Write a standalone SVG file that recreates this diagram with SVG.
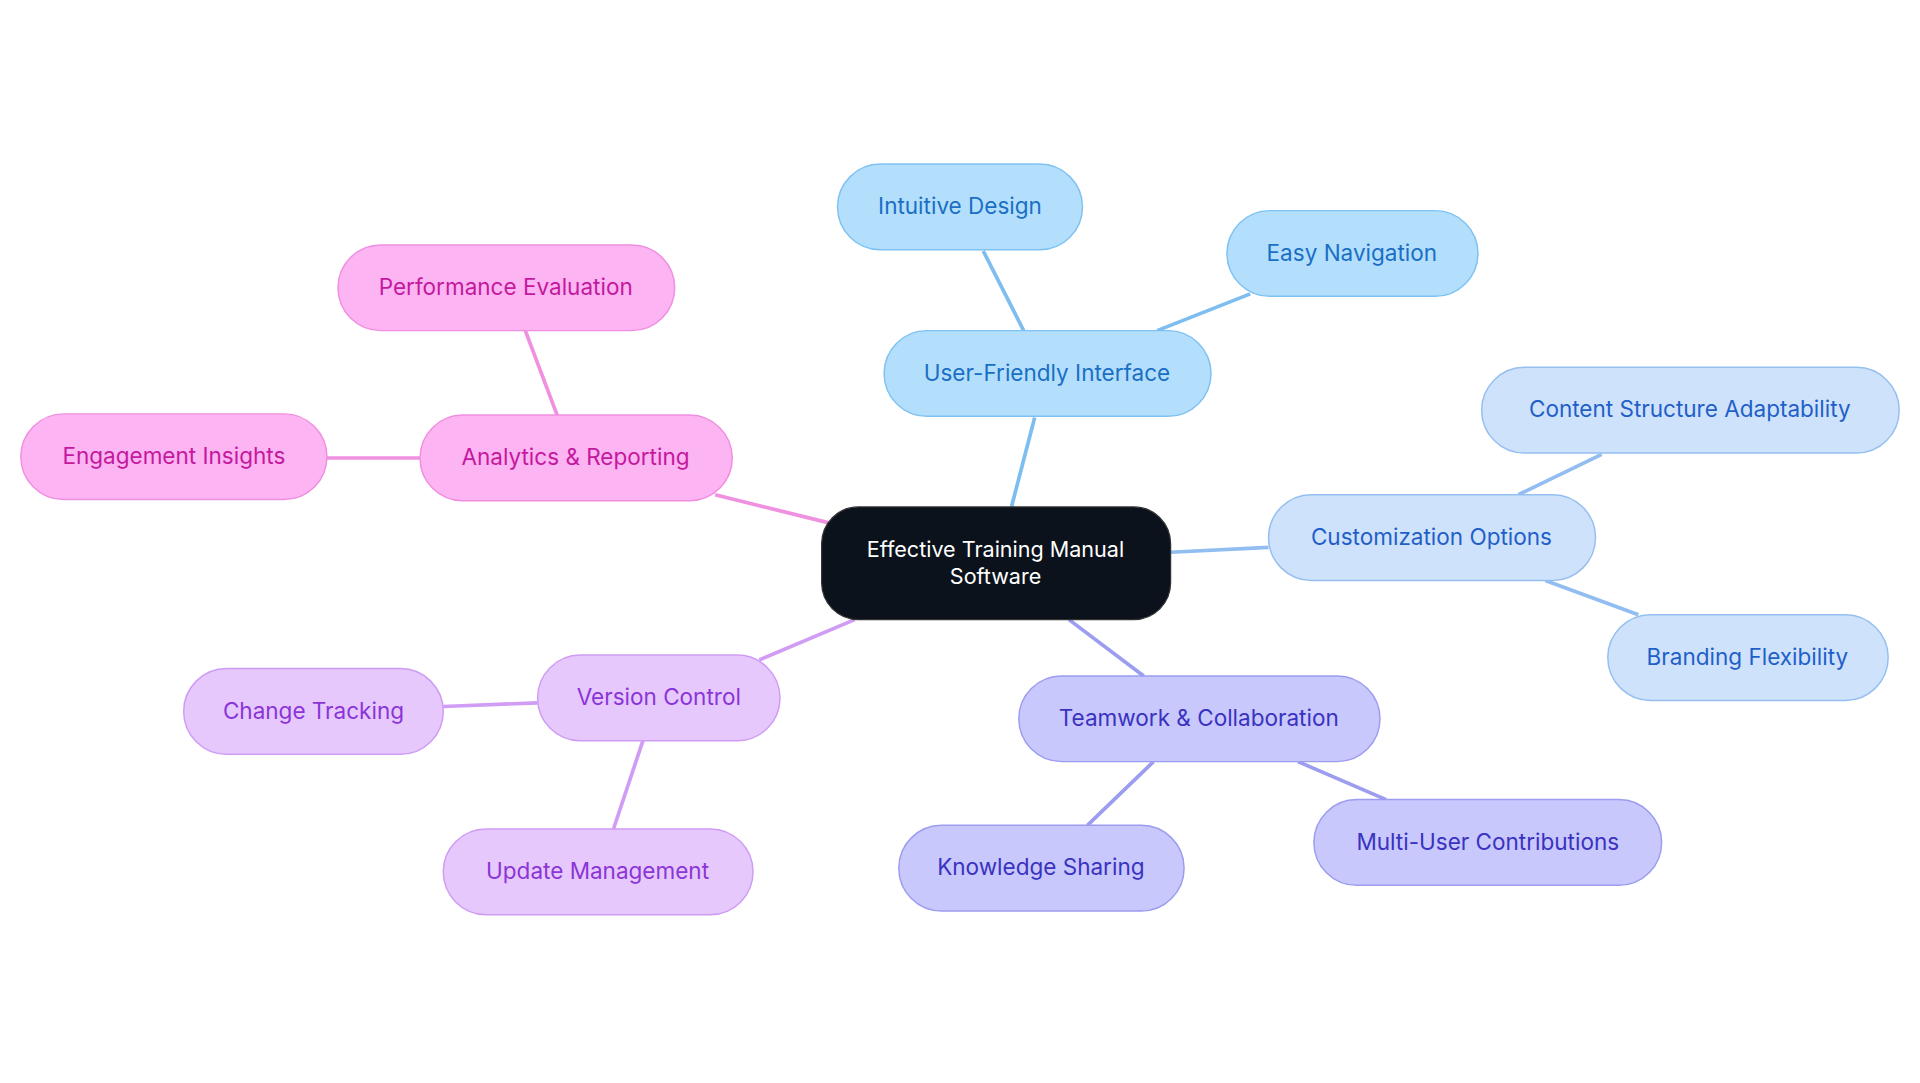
<svg xmlns="http://www.w3.org/2000/svg" width="1920" height="1083" viewBox="0 0 1920 1083">
<style>
text{font-family:Inter,"Noto Sans",sans-serif;font-size:18.4px;text-anchor:middle;dominant-baseline:central}
.b rect{fill:#b3dffc;stroke:#7fc2f2;stroke-width:1.2}.b text{fill:#1a6fc4}
.c rect{fill:#cfe2fb;stroke:#94bff0;stroke-width:1.2}.c text{fill:#1f5fc8}
.t rect{fill:#c8c8fc;stroke:#9c9cf0;stroke-width:1.2}.t text{fill:#3a32c0}
.v rect{fill:#e6c8fc;stroke:#cf9cf4;stroke-width:1.2}.v text{fill:#8a35d8}
.a rect{fill:#fdb4f2;stroke:#f08ee0;stroke-width:1.2}.a text{fill:#c4199e}
#center text{font-size:17.6px}
#edges line{stroke-width:3}
</style>
<rect width="1920" height="1083" fill="#fff"/>
<g transform="scale(1.2245)">
<g id="edges">
<line x1="826" y1="414" x2="845" y2="341" stroke="#7dbdf0"/>
<line x1="836" y1="270" x2="803" y2="205" stroke="#7dbdf0"/>
<line x1="945" y1="270" x2="1021" y2="240" stroke="#7dbdf0"/>
<line x1="956" y1="451" x2="1036" y2="447" stroke="#92bdf0"/>
<line x1="1240" y1="404" x2="1308" y2="371" stroke="#92bdf0"/>
<line x1="1262" y1="474" x2="1338" y2="502" stroke="#92bdf0"/>
<line x1="873" y1="506" x2="934" y2="552" stroke="#9c9cf0"/>
<line x1="942" y1="622" x2="888" y2="674" stroke="#9c9cf0"/>
<line x1="1060" y1="622" x2="1132" y2="653" stroke="#9c9cf0"/>
<line x1="698" y1="506" x2="620" y2="539" stroke="#d09cf4"/>
<line x1="439" y1="574" x2="362" y2="577" stroke="#d09cf4"/>
<line x1="525" y1="605" x2="501" y2="677" stroke="#d09cf4"/>
<line x1="677" y1="427" x2="584" y2="404" stroke="#f090e0"/>
<line x1="455" y1="339" x2="429" y2="270" stroke="#f090e0"/>
<line x1="343" y1="374" x2="267" y2="374" stroke="#f090e0"/>
</g>
<g id="center"><rect x="671" y="414" width="285" height="92" rx="30" fill="#0b121b" stroke="#333" stroke-width="1"/><text x="813" y="448" fill="#fff">Effective Training Manual</text><text x="813" y="470" fill="#fff">Software</text></g>
<g id="ufi" class="b"><rect x="722" y="270" width="267" height="70" rx="35"/><text x="855" y="304">User-Friendly Interface</text></g>
<g id="intuitive" class="b"><rect x="684" y="134" width="200" height="70" rx="35"/><text x="784" y="168">Intuitive Design</text></g>
<g id="easy" class="b"><rect x="1002" y="172" width="205" height="70" rx="35"/><text x="1104" y="206">Easy Navigation</text></g>
<g id="custom" class="c"><rect x="1036" y="404" width="267" height="70" rx="35"/><text x="1169" y="438">Customization Options</text></g>
<g id="content" class="c"><rect x="1210" y="300" width="341" height="70" rx="35"/><text x="1380" y="334">Content Structure Adaptability</text></g>
<g id="branding" class="c"><rect x="1313" y="502" width="229" height="70" rx="35"/><text x="1427" y="536">Branding Flexibility</text></g>
<g id="team" class="t"><rect x="832" y="552" width="295" height="70" rx="35"/><text x="979" y="586">Teamwork &amp; Collaboration</text></g>
<g id="knowledge" class="t"><rect x="734" y="674" width="233" height="70" rx="35"/><text x="850" y="708">Knowledge Sharing</text></g>
<g id="multi" class="t"><rect x="1073" y="653" width="284" height="70" rx="35"/><text x="1215" y="687">Multi-User Contributions</text></g>
<g id="version" class="v"><rect x="439" y="535" width="198" height="70" rx="35"/><text x="538" y="569">Version Control</text></g>
<g id="change" class="v"><rect x="150" y="546" width="212" height="70" rx="35"/><text x="256" y="580">Change Tracking</text></g>
<g id="update" class="v"><rect x="362" y="677" width="253" height="70" rx="35"/><text x="488" y="711">Update Management</text></g>
<g id="analytics" class="a"><rect x="343" y="339" width="255" height="70" rx="35"/><text x="470" y="373">Analytics &amp; Reporting</text></g>
<g id="perf" class="a"><rect x="276" y="200" width="275" height="70" rx="35"/><text x="413" y="234">Performance Evaluation</text></g>
<g id="engage" class="a"><rect x="17" y="338" width="250" height="70" rx="35"/><text x="142" y="372">Engagement Insights</text></g>
</g>
</svg>
